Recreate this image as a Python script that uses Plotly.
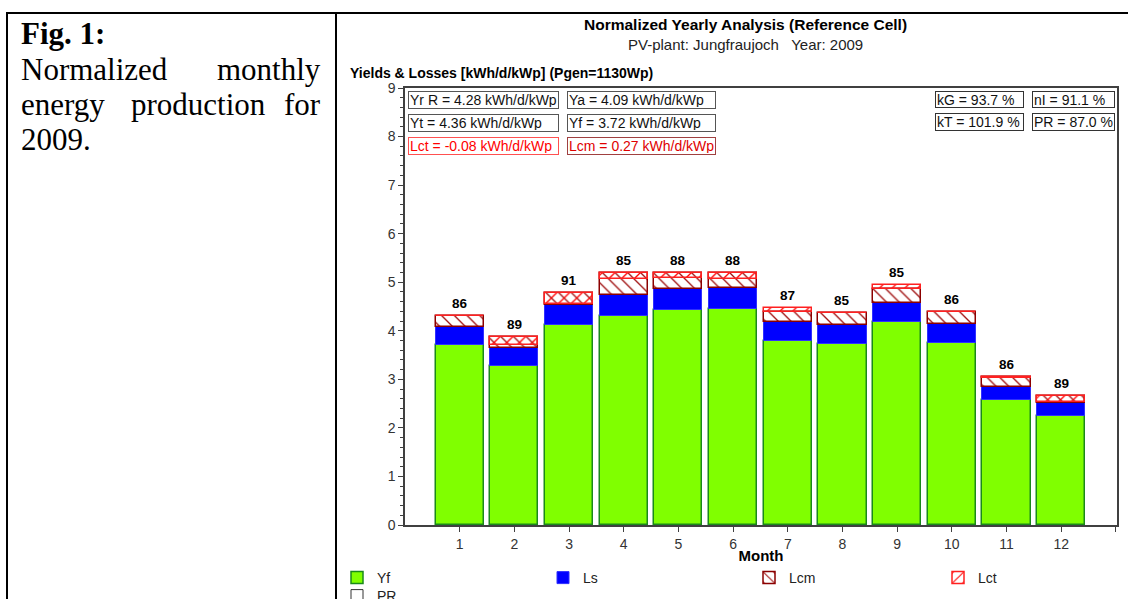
import plotly.graph_objects as go

# Monthly normalized yields and losses, kWh/d/kWp
months = [1, 2, 3, 4, 5, 6, 7, 8, 9, 10, 11, 12]
yf = [3.71, 3.27, 4.12, 4.30, 4.42, 4.44, 3.79, 3.73, 4.18, 3.74, 2.57, 2.25]
ls = [0.36, 0.37, 0.42, 0.43, 0.45, 0.44, 0.40, 0.38, 0.40, 0.39, 0.28, 0.27]
lcm = [0.24, 0.23, 0.23, 0.45, 0.33, 0.30, 0.20, 0.25, 0.28, 0.25, 0.19, 0.14]
lct = [-0.01, -0.17, -0.22, -0.12, -0.12, -0.12, 0.07, 0.00, 0.08, 0.00, -0.02, -0.13]
pr = [86, 89, 91, 85, 88, 88, 87, 85, 85, 86, 86, 89]

# Yearly summary values shown in the boxes
summary_left = [
    ("Yr R = 4.28 kWh/d/kWp", "Ya = 4.09 kWh/d/kWp"),
    ("Yt = 4.36 kWh/d/kWp", "Yf = 3.72 kWh/d/kWp"),
    ("Lct = -0.08 kWh/d/kWp", "Lcm = 0.27 kWh/d/kWp"),
]
summary_right = [
    ("kG = 93.7 %", "nI = 91.1 %"),
    ("kT = 101.9 %", "PR = 87.0 %"),
]

W, H = 1128, 599
L, R, T, B = 405, 1117, 88, 525
SANS = "Liberation Sans, Arial, sans-serif"
SERIF = "Liberation Serif, Times New Roman, serif"


def px(x):
    return (x - L) / (R - L)


def py(y):
    return (B - y) / (B - T)


base_ls = [a for a in yf]
base_lcm = [a + b for a, b in zip(yf, ls)]
base_lct = [a + b + c for a, b, c in zip(yf, ls, lcm)]
top = [max(a, a + d) for a, d in zip(base_lct, lct)]

bw = 0.88
fig = go.Figure()
fig.add_trace(go.Bar(
    x=months, y=yf, base=[0] * 12, width=bw, name="Yf",
    marker=dict(color="#80ff00", line=dict(color="#1a8a1a", width=1.5)),
    legend="legend",
))
fig.add_trace(go.Bar(
    x=months, y=ls, base=base_ls, width=bw, name="Ls",
    marker=dict(color="#0000ff", line=dict(color="#3030ff", width=1)),
    legend="legend2",
))
fig.add_trace(go.Bar(
    x=months, y=lcm, base=base_lcm, width=bw, name="Lcm",
    marker=dict(color="#a01010", line=dict(color="#8b0000", width=1.5),
                pattern=dict(shape="\\", size=9, solidity=0.15,
                             fillmode="replace", bgcolor="white")),
    legend="legend3",
))
fig.add_trace(go.Bar(
    x=months, y=lct, base=base_lct, width=bw, name="Lct",
    marker=dict(color="#ff0000", line=dict(color="#ff2020", width=1.5),
                pattern=dict(shape="/", size=9, solidity=0.15,
                             fillmode="replace")),
    legend="legend4",
))
fig.add_trace(go.Bar(
    x=[None], y=[None], name="PR",
    marker=dict(color="white", line=dict(color="#333333", width=1)),
    legend="legend5",
))

annotations = [
    dict(text="<b>Normalized Yearly Analysis (Reference Cell)</b>",
         x=px(745), y=py(24), xanchor="center", yanchor="middle",
         font=dict(family=SANS, size=15.5, color="black")),
    dict(text="PV-plant: Jungfraujoch   Year: 2009",
         x=px(745), y=py(45), xanchor="center", yanchor="middle",
         font=dict(family=SANS, size=15, color="#222222")),
    dict(text="<b>Yields & Losses [kWh/d/kWp] (Pgen=1130Wp)</b>",
         x=px(348), y=py(73), xanchor="left", yanchor="middle",
         font=dict(family=SANS, size=14, color="black")),
]

# PR values written above each month
for m, t, v in zip(months, top, pr):
    annotations.append(dict(text=f"<b>{v}</b>", x=m, y=t, xref="x", yref="y",
                            xanchor="center", yanchor="bottom", yshift=3,
                            font=dict(family=SANS, size=13.5, color="black")))


def box(text, x0, y0, x1, y1, border, color):
    return dict(text=text, x=px(x0), y=py(y0), xanchor="left", yanchor="top",
                width=x1 - x0 - 4, height=y1 - y0 - 4, align="left",
                valign="middle", borderpad=1, borderwidth=1,
                bordercolor=border, bgcolor="white",
                font=dict(family=SANS, size=14, color=color))


rows_y = [(91, 109), (114, 132), (137, 155)]
for i, (a, b) in enumerate(summary_left):
    y0, y1 = rows_y[i]
    if i < 2:
        annotations.append(box(a, 408, y0, 559, y1, "#555555", "#111111"))
        annotations.append(box(b, 567, y0, 716, y1, "#555555", "#111111"))
    else:
        annotations.append(box(a, 408, y0, 559, y1, "#ff5050", "#ff0000"))
        annotations.append(box(b, 567, y0, 716, y1, "#a04040", "#e00000"))

rows_y2 = [(91, 108), (113, 131)]
for i, (a, b) in enumerate(summary_right):
    y0, y1 = rows_y2[i]
    annotations.append(box(a, 935, y0, 1024, y1, "#333333", "#111111"))
    annotations.append(box(b, 1032, y0, 1115, y1, "#333333", "#111111"))

# Caption text in the left cell
cap_font = dict(family=SERIF, size=31, color="black")
caption = [
    ("<b>Fig. 1:</b>", 19, 33, "left"),
    ("Normalized", 19, 69, "left"),
    ("monthly", 323, 69, "right"),
    ("energy", 19, 104, "left"),
    ("production", 198, 104, "center"),
    ("for", 323, 104, "right"),
    ("2009.", 19, 140, "left"),
]
for text, x, y, anchor in caption:
    annotations.append(dict(text=text, x=px(x), y=py(y), xanchor=anchor,
                            yanchor="middle", font=cap_font))

for a in annotations:
    a.setdefault("xref", "paper")
    a.setdefault("yref", "paper")
    a["showarrow"] = False

shapes = []
for x0, y0, x1, y1 in [(6, 13, 1128, 13), (7, 13, 7, 599), (336, 13, 336, 599)]:
    shapes.append(dict(type="line", xref="paper", yref="paper",
                       x0=px(x0), y0=py(y0), x1=px(x1), y1=py(y1),
                       line=dict(color="black", width=2)))

# One legend per entry, placed along the bottom rows
leg_font = dict(family=SANS, size=14, color="#222222")
legends = {}
for key, cx, cy in [("legend", 357, 562), ("legend2", 563, 562),
                    ("legend3", 769, 562), ("legend4", 958, 562),
                    ("legend5", 357, 580)]:
    legends[key] = dict(x=px(cx - 20), y=py(cy), xanchor="left", yanchor="top",
                        orientation="h", font=leg_font,
                        bgcolor="rgba(0,0,0,0)", itemclick=False,
                        itemdoubleclick=False)

fig.update_layout(
    width=W, height=H, autosize=False,
    margin=dict(l=L, r=W - R, t=T, b=H - B, autoexpand=False),
    paper_bgcolor="white", plot_bgcolor="white",
    barmode="overlay", bargap=0,
    showlegend=True,
    annotations=annotations,
    shapes=shapes,
    xaxis=dict(range=[0, 13.02], tickmode="array", tickvals=months + [13],
               ticktext=[str(m) for m in months] + [""],
               ticks="outside", ticklen=5, tickcolor="#404040",
               showline=True, linecolor="#404040", linewidth=1.5, mirror=True,
               showgrid=False, zeroline=False,
               tickfont=dict(family=SANS, size=14, color="#333333"),
               title=dict(text="<b>Month</b>", standoff=0,
                          font=dict(family=SANS, size=15, color="black"))),
    yaxis=dict(range=[0, 9], dtick=1, ticks="outside", ticklen=5,
               tickcolor="#404040", showline=True, linecolor="#404040",
               linewidth=1.5, mirror=True, showgrid=False, zeroline=False,
               tickfont=dict(family=SANS, size=14, color="#333333"),
               minor=dict(dtick=0.2, ticks="outside", ticklen=3,
                          tickcolor="#404040", showgrid=False)),
    **legends,
)

fig.write_html("out.html")
